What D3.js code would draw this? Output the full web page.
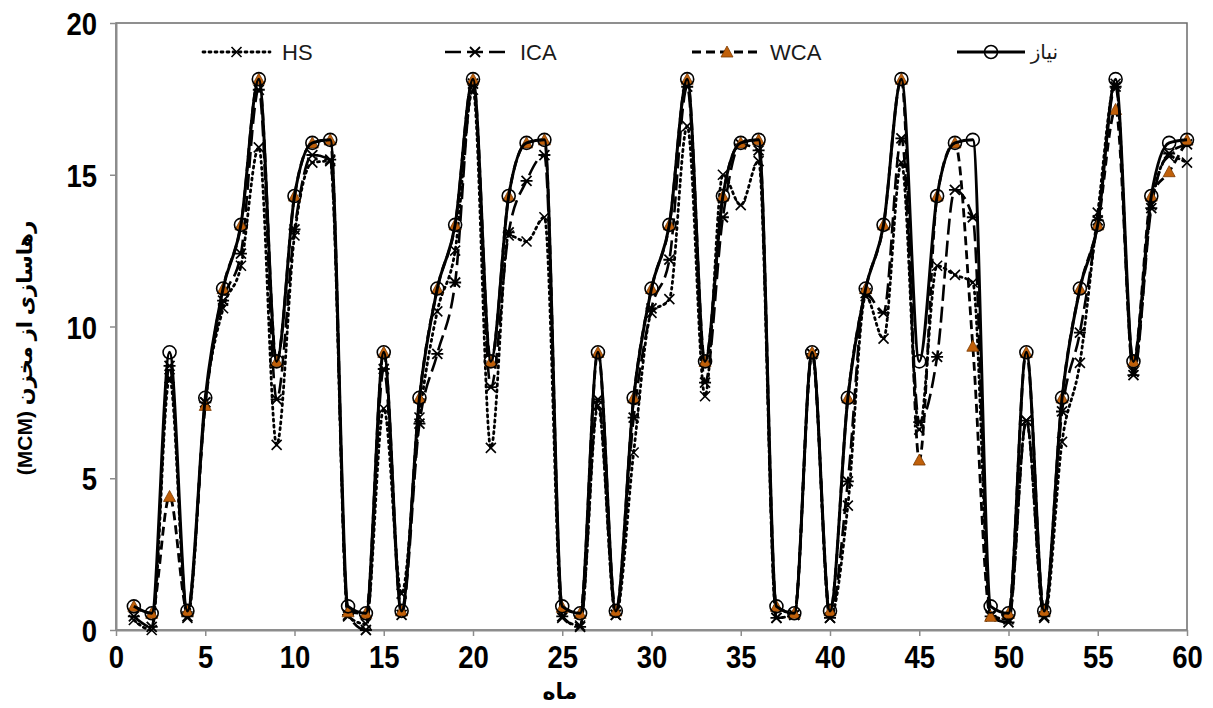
<!DOCTYPE html>
<meta charset="utf-8">
<script src="https://d3js.org/d3.v7.min.js"></script>
<style>
  body { margin: 0; background: #fff; }
  text { font-family: "Liberation Sans", Arial, "DejaVu Sans", sans-serif; }
</style>
<div id="chart"></div>
<script>
  // months 1..60
  const months = d3.range(1, 61);

  // release from reservoir (MCM)
  const demand = [
    0.78, 0.55, 9.15, 0.63, 7.65, 11.25, 13.35, 18.15, 8.85, 14.3, 16.05, 16.15,
    0.78, 0.55, 9.15, 0.63, 7.65, 11.25, 13.35, 18.15, 8.85, 14.3, 16.05, 16.15,
    0.78, 0.55, 9.15, 0.63, 7.65, 11.25, 13.35, 18.15, 8.85, 14.3, 16.05, 16.15,
    0.78, 0.55, 9.15, 0.63, 7.65, 11.25, 13.35, 18.15, 8.85, 14.3, 16.05, 16.15,
    0.78, 0.55, 9.15, 0.63, 7.65, 11.25, 13.35, 18.15, 8.85, 14.3, 16.05, 16.15
  ];
  const wca = [
    0.78, 0.55, 4.4, 0.63, 7.4, 11.25, 13.35, 18.15, 8.85, 14.3, 16.05, 16.15,
    0.6, 0.55, 9.15, 0.63, 7.65, 11.25, 13.35, 18.15, 8.85, 14.3, 16.05, 16.15,
    0.75, 0.55, 9.15, 0.63, 7.65, 11.25, 13.35, 18.15, 8.85, 14.3, 16.05, 16.15,
    0.78, 0.55, 9.15, 0.63, 7.65, 11.25, 13.35, 18.15, 5.6, 14.3, 16.05, 9.35,
    0.45, 0.55, 9.15, 0.63, 7.65, 11.25, 13.35, 17.15, 8.85, 14.3, 15.1, 16.15
  ];
  const ica = [
    0.45, 0.1, 8.7, 0.45, 7.5, 10.85, 12.4, 17.8, 7.6, 13.2, 15.65, 15.5,
    0.5, 0.0, 8.6, 0.5, 6.8, 9.1, 11.45, 18.0, 8.0, 13.1, 14.8, 15.65,
    0.45, 0.1, 7.6, 0.5, 7.0, 10.6, 12.2, 17.9, 8.15, 13.6, 16.0, 15.8,
    0.4, 0.5, 9.1, 0.4, 4.9, 11.1, 10.45, 16.2, 6.85, 9.0, 14.5, 13.6,
    0.45, 0.25, 6.9, 0.45, 7.2, 9.8, 13.5, 17.9, 8.4, 13.9, 15.7, 16.0
  ];
  const hs = [
    0.33, 0.0, 8.3, 0.4, 7.5, 10.6, 12.0, 15.9, 6.1, 13.0, 15.4, 15.45,
    0.45, 0.2, 7.3, 1.2, 7.0, 10.5, 12.5, 17.8, 6.0, 13.0, 12.8, 13.6,
    0.4, 0.15, 7.4, 0.5, 5.85, 10.45, 10.9, 16.6, 7.7, 15.0, 14.0, 15.45,
    0.4, 0.5, 9.1, 0.4, 4.1, 11.0, 9.6, 15.4, 6.6, 12.0, 11.7, 11.45,
    0.5, 0.35, 6.9, 0.4, 6.2, 8.8, 13.75, 18.0, 8.5, 14.0, 15.6, 15.4
  ];

  const xTicks = d3.range(0, 61, 5);
  const yTicks = [0, 5, 10, 15, 20];

  const width = 1213, height = 708;
  const plotLeft = 116, plotRight = 1187, plotTop = 23, plotBottom = 630;

  const svg = d3.select("#chart").append("svg")
    .attr("width", width).attr("height", height);

  const x = d3.scaleLinear().domain([0, 60]).range([plotLeft, plotRight]);
  const y = d3.scaleLinear().domain([0, 20]).range([plotBottom, plotTop]);

  // plot border
  svg.append("rect")
    .attr("x", plotLeft).attr("y", plotTop)
    .attr("width", plotRight - plotLeft).attr("height", plotBottom - plotTop)
    .attr("fill", "none").attr("stroke", "#6b6b6b").attr("stroke-width", 1.5);

  // axes
  const xAxis = svg.append("g")
    .attr("transform", `translate(0,${plotBottom})`)
    .call(d3.axisBottom(x).tickValues(xTicks).tickSize(6).tickSizeOuter(0).tickPadding(9));
  const yAxis = svg.append("g")
    .attr("transform", `translate(${plotLeft},0)`)
    .call(d3.axisLeft(y).tickValues(yTicks).tickSize(6).tickSizeOuter(0).tickPadding(16));
  [xAxis, yAxis].forEach(g => {
    g.select(".domain").attr("stroke", "#8c8c8c").attr("stroke-width", 2);
    g.selectAll(".tick line").attr("stroke", "#8c8c8c").attr("stroke-width", 1.5);
    g.selectAll(".tick text")
      .attr("fill", "#000")
      .attr("transform", "scale(0.86,1)")
      .style("font-size", "32px").style("font-weight", "bold")
      .style("font-family", '"Liberation Sans", Arial, sans-serif');
  });
  yAxis.selectAll(".tick text").attr("dy", "0.36em");
  xAxis.selectAll(".tick text").attr("dy", "0.72em");

  // axis titles
  svg.append("text")
    .attr("x", 560).attr("y", 699)
    .attr("text-anchor", "middle")
    .attr("direction", "rtl")
    .style("font-size", "22px").style("font-weight", "bold")
    .text("ماه");
  svg.append("text")
    .attr("transform", `translate(32,348) rotate(-90)`)
    .attr("text-anchor", "middle")
    .attr("direction", "rtl")
    .style("unicode-bidi", "embed")
    .style("font-size", "21px").style("font-weight", "bold")
    .text("رهاسازی از مخزن (MCM)");

  const line = d3.line()
    .x(d => x(d[0])).y(d => y(d[1]))
    .curve(d3.curveMonotoneX);

  const series = [
    { name: "HS", values: hs, dash: "2,4", cap: "round", width: 2.8, marker: "x" },
    { name: "ICA", values: ica, dash: "16,6", cap: "butt", width: 2.6, marker: "star" },
    { name: "WCA", values: wca, dash: "9,5", cap: "butt", width: 2.8, marker: "tri" },
    { name: "نیاز", values: demand, dash: null, cap: "butt", width: 3, marker: "circle" }
  ];

  function drawMarker(g, type, cx, cy) {
    if (type === "x") {
      g.append("path")
        .attr("d", `M${cx - 5},${cy - 5}L${cx + 5},${cy + 5}M${cx - 5},${cy + 5}L${cx + 5},${cy - 5}`)
        .attr("stroke", "#000").attr("stroke-width", 1.6);
    } else if (type === "star") {
      g.append("path")
        .attr("d", `M${cx - 5},${cy - 5}L${cx + 5},${cy + 5}M${cx - 5},${cy + 5}L${cx + 5},${cy - 5}M${cx - 6},${cy}L${cx + 6},${cy}`)
        .attr("stroke", "#000").attr("stroke-width", 1.8);
    } else if (type === "tri") {
      g.append("path")
        .attr("d", `M${cx},${cy - 6}L${cx + 6},${cy + 5}L${cx - 6},${cy + 5}Z`)
        .attr("fill", "#c0600a").attr("stroke", "#7a3a00").attr("stroke-width", 0.8);
    } else {
      g.append("circle")
        .attr("cx", cx).attr("cy", cy).attr("r", 6.5)
        .attr("fill", "none").attr("stroke", "#000").attr("stroke-width", 1.6);
    }
  }

  series.forEach(s => {
    const pts = months.map((m, i) => [m, s.values[i]]);
    const g = svg.append("g");
    g.append("path")
      .attr("d", line(pts))
      .attr("fill", "none")
      .attr("stroke", "#000")
      .attr("stroke-width", s.width)
      .attr("stroke-linecap", s.cap)
      .attr("stroke-dasharray", s.dash);
    pts.forEach(p => drawMarker(g, s.marker, x(p[0]), y(p[1])));
  });

  // legend
  const legend = [
    { s: series[0], x1: 203, x2: 270, tx: 282, anchor: "start" },
    { s: series[1], x1: 445, x2: 505, tx: 520, anchor: "start" },
    { s: series[2], x1: 692, x2: 762, tx: 770, anchor: "start" },
    { s: series[3], x1: 957, x2: 1025, tx: 1058, anchor: "end" }
  ];
  const ly = 52;
  legend.forEach(l => {
    const g = svg.append("g");
    g.append("line")
      .attr("x1", l.x1).attr("x2", l.x2).attr("y1", ly).attr("y2", ly)
      .attr("stroke", "#000").attr("stroke-width", l.s.width)
      .attr("stroke-linecap", l.s.cap)
      .attr("stroke-dasharray", l.s.dash);
    drawMarker(g, l.s.marker, (l.x1 + l.x2) / 2, ly);
    g.append("text")
      .attr("x", l.tx).attr("y", ly).attr("dy", "0.35em")
      .attr("text-anchor", l.anchor)
      .style("font-size", l.s.name === "نیاز" ? "20px" : "22px")
      .attr("fill", "#1a1a1a")
      .text(l.s.name);
  });
</script>
